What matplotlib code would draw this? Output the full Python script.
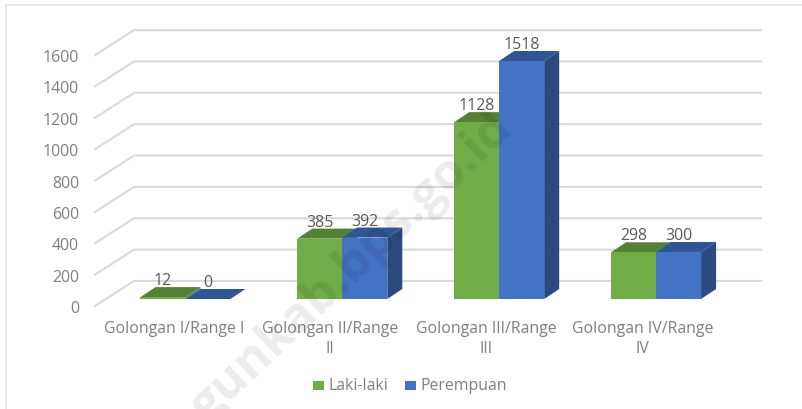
import numpy as np
import matplotlib
matplotlib.use('Agg')
import matplotlib.pyplot as plt
from matplotlib.transforms import ScaledTranslation
from matplotlib.patches import Rectangle

plt.rcParams['font.family'] = ['Open Sans', 'DejaVu Sans']

categories = ['Golongan I/Range I', 'Golongan II/Range\nII', 'Golongan III/Range\nIII', 'Golongan IV/Range\nIV']
lakiLaki = [12, 385, 1128, 298]
perempuan = [0, 392, 1518, 300]
yTicks = [0, 200, 400, 600, 800, 1000, 1200, 1400, 1600]

W, H = 803, 409
green, greenTop = '#70ad47', '#548235'
blue, blueTop, blueSide = '#4472c4', '#2f5597', '#2a4a80'
gridCol = '#d9d9d9'
labCol = '#7f7f7f'
fs = 11.4

f = plt.figure(figsize=(W/100, H/100), dpi=100)

# axes = plane of the bar fronts, 0 sits at y=299px
left, right = 107, 734.5
base, top = 299, 299 - 1600*0.1568
ax = f.add_axes([left/W, 1 - base/H, (right-left)/W, (base-top)/H])
ax.set_xlim(-0.5, 3.5)
ax.set_ylim(0, 1600)
ax.patch.set_visible(False)
for s in ax.spines.values():
    s.set_visible(False)

# pixel -> data steps for the fake depth
pxX = 4/(right-left)
pxY = 1600/(base-top)
barW = 45*pxX

# floor/back wall grid
for v in yTicks:
    xs = np.array([-0.5 - 12*pxX, -0.5 + 27*pxX, 3.5 + 26.5*pxX])
    ys = np.array([v - 7*pxY, v + 18*pxY, v + 18*pxY])
    ax.plot(xs, ys, color=gridCol, lw=1.5, clip_on=False, zorder=1, solid_joinstyle='miter')

def bar3d(x, val, face, topCol, sideCol):
    dx, dy = 15*pxX, 10*pxY
    ax.fill([x, x+dx, x+barW+dx, x+barW], [val, val+dy, val+dy, val], color=topCol, lw=0, zorder=3, clip_on=False)
    ax.fill([x+barW, x+barW+dx, x+barW+dx, x+barW], [0, dy, val+dy, val], color=sideCol, lw=0, zorder=3, clip_on=False)
    ax.bar(x, val, barW, align='edge', color=face, zorder=4, clip_on=False)

for i in range(len(categories)):
    bar3d(i - barW, lakiLaki[i], green, greenTop, greenTop)
    bar3d(i, perempuan[i], blue, blueTop, blueSide)
    ax.annotate(str(lakiLaki[i]), (i - barW/2, lakiLaki[i]), xytext=(0, 16), textcoords='offset pixels',
                ha='center', va='center', fontsize=fs, color='#595959', zorder=6)
    ax.annotate(str(perempuan[i]), (i + barW/2, perempuan[i]), xytext=(0, 16), textcoords='offset pixels',
                ha='center', va='center', fontsize=fs, color='#595959', zorder=6)

# tick labels, shifted to the front plane
ax.set_yticks(yTicks)
ax.set_xticks(range(len(categories)))
ax.set_xticklabels(categories, linespacing=1.33)
ax.tick_params(length=0, labelsize=fs, labelcolor=labCol, pad=0)
shiftY = ScaledTranslation(-28/100, -8/100, f.dpi_scale_trans)
for lab in ax.get_yticklabels():
    lab.set_transform(lab.get_transform() + shiftY)
for i, lab in enumerate(ax.get_xticklabels()):
    shiftX = ScaledTranslation((-11.5 - 0.7*i)/100, -22/100, f.dpi_scale_trans)
    lab.set_transform(lab.get_transform() + shiftX)

# chart border
f.add_artist(plt.Line2D([6/W, 6/W, 1], [0, 1-5/H, 1-5/H], color='#e4e4e4', lw=1.2))

# legend
for x0, col, name in [(313, green, 'Laki-laki'), (405, blue, 'Perempuan')]:
    f.add_artist(Rectangle((x0/W, 1-390/H), 11/W, 9/H, color=col, lw=0, transform=f.transFigure))
    f.text((x0+15 if x0 < 400 else x0+16)/W, 1-386/H, name, fontsize=fs, color=labCol, va='center', ha='left')

# watermark
f.text(352/W, 1-268/H, 'gunkab.bps.go.id', fontsize=36, fontweight='bold', color='black', alpha=0.08,
       rotation=43.5, ha='center', va='center', rotation_mode='anchor', zorder=10)

f.savefig('out.png', dpi=100)
